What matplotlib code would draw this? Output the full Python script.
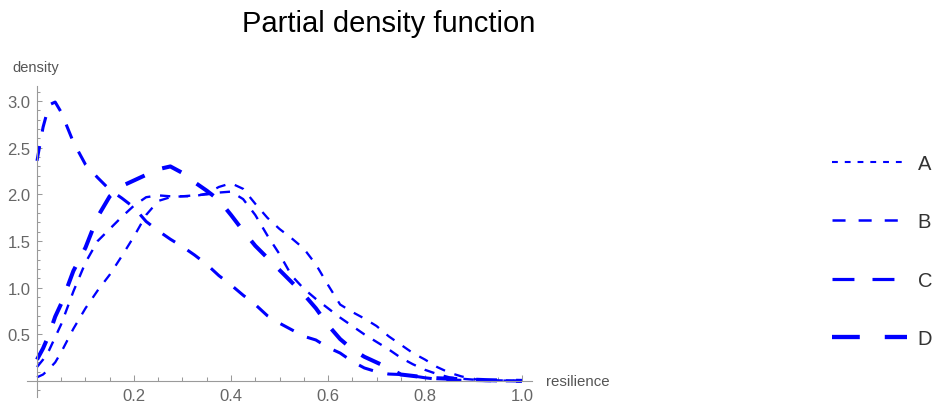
import matplotlib
matplotlib.use("Agg")
import matplotlib.pyplot as plt
from matplotlib.lines import Line2D
from matplotlib.ticker import MultipleLocator, FixedLocator

plt.rcParams["font.family"] = ["Liberation Sans", "DejaVu Sans"]
plt.rcParams["lines.scale_dashes"] = False

# shared resilience grid
resilience = [0.0, 0.0125, 0.025, 0.0375, 0.05, 0.075, 0.1, 0.125, 0.15, 0.175,
              0.2, 0.225, 0.25, 0.275, 0.3, 0.325, 0.35, 0.375, 0.4, 0.425,
              0.45, 0.475, 0.5, 0.525, 0.55, 0.575, 0.6, 0.625, 0.65, 0.675,
              0.7, 0.725, 0.75, 0.775, 0.8, 0.825, 0.85, 0.875, 0.9, 0.925,
              0.95, 0.975, 1.0]

density_a = [0.04, 0.07, 0.13, 0.2, 0.31, 0.56, 0.78, 0.97, 1.14, 1.34,
             1.55, 1.78, 1.93, 1.97, 1.98, 1.98, 2.01, 2.08, 2.12, 2.06,
             1.9, 1.75, 1.63, 1.53, 1.42, 1.25, 1.03, 0.82, 0.74, 0.67,
             0.59, 0.48, 0.39, 0.3, 0.23, 0.15, 0.09, 0.05, 0.02, 0.012,
             0.008, 0.004, 0.002]

density_b = [0.15, 0.23, 0.33, 0.47, 0.61, 0.96, 1.27, 1.5, 1.63, 1.76,
             1.88, 1.97, 1.99, 1.98, 1.98, 1.99, 2.0, 2.02, 2.03, 1.95,
             1.78, 1.56, 1.36, 1.13, 0.99, 0.88, 0.78, 0.68, 0.59, 0.5,
             0.42, 0.34, 0.25, 0.18, 0.12, 0.075, 0.04, 0.025, 0.015, 0.01,
             0.006, 0.003, 0.001]

density_c = [2.36, 2.72, 2.96, 2.99, 2.88, 2.56, 2.32, 2.18, 2.05, 1.96,
             1.86, 1.71, 1.61, 1.52, 1.44, 1.35, 1.25, 1.13, 1.03, 0.92,
             0.82, 0.7, 0.62, 0.55, 0.48, 0.44, 0.36, 0.3, 0.21, 0.14,
             0.1, 0.075, 0.07, 0.055, 0.035, 0.02, 0.012, 0.008, 0.006, 0.004,
             0.003, 0.002, 0.0]

density_d = [0.23, 0.35, 0.5, 0.69, 0.83, 1.18, 1.43, 1.76, 1.98, 2.09,
             2.15, 2.21, 2.27, 2.3, 2.23, 2.13, 2.04, 1.94, 1.78, 1.61,
             1.45, 1.32, 1.19, 1.06, 0.93, 0.78, 0.6, 0.45, 0.34, 0.26,
             0.2, 0.14, 0.07, 0.055, 0.04, 0.03, 0.025, 0.02, 0.015, 0.01,
             0.007, 0.004, 0.002]

series_labels = ["A", "B", "C", "D"]
series_values = [density_a, density_b, density_c, density_d]

x_major_ticks = [0.2, 0.4, 0.6, 0.8, 1.0]
x_tick_labels = ["0.2", "0.4", "0.6", "0.8", "1.0"]
y_major_ticks = [0.5, 1.0, 1.5, 2.0, 2.5, 3.0]
y_tick_labels = ["0.5", "1.0", "1.5", "2.0", "2.5", "3.0"]

# stroke styles: (linewidth, dash pattern in points)
plot_styles = [(1.65, (7.0, 7.2)), (1.7, (7.4, 7.0)), (2.2, (10.8, 10.6)), (2.9, (15.0, 13.7))]
key_styles = [(1.5, (4.2, 5.0)), (1.8, (9.4, 9.4)), (2.3, (15.8, 13.0)), (3.1, (20.0, 18.0))]

BLUE = "#0000ff"
AXIS_GRAY = "#9a9a9a"
TEXT_GRAY = "#666666"

fig = plt.figure(figsize=(9.38, 4.06), dpi=100)
ax = fig.add_axes([27 / 938, 1 - 398 / 406, (532 - 27) / 938, (398 - 87) / 406])

for vals, (lw, dash) in zip(series_values, plot_styles):
    ax.plot(resilience, vals, color=BLUE, lw=lw, dashes=dash)

ax.set_xlim(-0.0206, 1.0206)
ax.set_ylim(-0.171, 3.162)

for side in ("top", "right"):
    ax.spines[side].set_visible(False)
ax.spines["left"].set_position(("data", 0))
ax.spines["bottom"].set_position(("data", 0))
for side in ("left", "bottom"):
    ax.spines[side].set_color(AXIS_GRAY)
    ax.spines[side].set_linewidth(0.8)

ax.xaxis.set_major_locator(FixedLocator(x_major_ticks))
ax.set_xticklabels(x_tick_labels)
ax.xaxis.set_minor_locator(MultipleLocator(0.05))
ax.yaxis.set_major_locator(FixedLocator(y_major_ticks))
ax.set_yticklabels(y_tick_labels)
ax.yaxis.set_minor_locator(MultipleLocator(0.1))

ax.tick_params(axis="both", which="both", direction="in", color=AXIS_GRAY,
               width=0.75, labelcolor=TEXT_GRAY, labelsize=12)
ax.tick_params(axis="x", which="major", length=4.3, pad=5.0)
ax.tick_params(axis="x", which="minor", length=2.8)
ax.tick_params(axis="y", which="major", length=3.8, pad=4.5)
ax.tick_params(axis="y", which="minor", length=2.3)
ax.patch.set_visible(False)

fig.text(12 / 938, 1 - 68 / 406, "density", color="#555555", fontsize=10.5,
         ha="left", va="center")
fig.text(546 / 938, 1 - 382 / 406, "resilience", color="#555555", fontsize=10.8,
         ha="left", va="center")
fig.text(389 / 938, 1 - 24 / 406, "Partial density function", color="black",
         fontsize=21, ha="center", va="center")

handles = [Line2D([], [], color=BLUE, lw=lw, dashes=dash) for lw, dash in key_styles]
fig.legend(handles, series_labels, loc="center left",
           bbox_to_anchor=(832 / 938, 1 - 252 / 406), frameon=False,
           fontsize=14.5, handlelength=3.7, handletextpad=0.55,
           labelspacing=1.95, borderpad=0, borderaxespad=0,
           labelcolor="#333333")

fig.savefig("out.png", dpi=100)
